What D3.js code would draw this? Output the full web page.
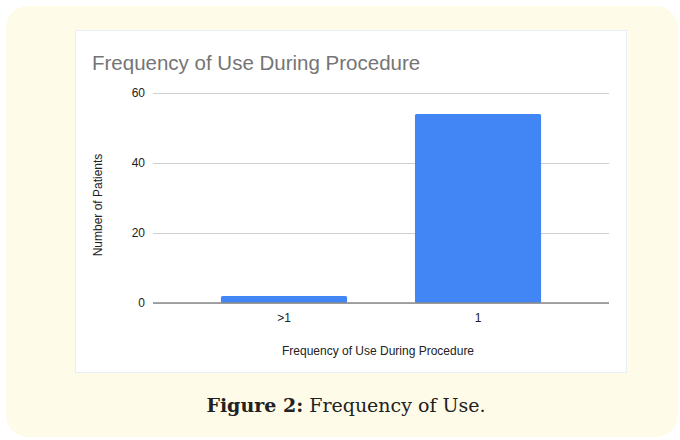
<!DOCTYPE html>
<html>
<head>
<meta charset="utf-8">
<script src="https://cdn.jsdelivr.net/npm/d3@7"></script>
<style>
  body { margin: 0; background: #ffffff; }
</style>
</head>
<body>
<div id="chart"></div>
<script>
var categories = [">1", "1"];
var patients = [2, 54];
var yTicks = [0, 20, 40, 60];

var svgWidth = 680;
var svgHeight = 440;

var svg = d3
  .select("#chart")
  .append("svg")
  .attr("width", svgWidth)
  .attr("height", svgHeight);

// cream card and white chart panel
svg.append("rect")
  .attr("x", 6).attr("y", 6)
  .attr("width", 672).attr("height", 431)
  .attr("rx", 22)
  .attr("fill", "#fffbe9");

svg.append("rect")
  .attr("x", 75.5).attr("y", 30.5)
  .attr("width", 551).attr("height", 342)
  .attr("fill", "#ffffff")
  .attr("stroke", "#e6eef8");

var plot = { left: 153, right: 609, top: 93, bottom: 303 };
var sans = "Arial, 'Liberation Sans', sans-serif";

var xScale = d3.scaleBand()
  .domain(categories)
  .range([plot.left, plot.right])
  .paddingInner(0.35)
  .paddingOuter(0.35);

var yScale = d3.scaleLinear()
  .domain([0, 60])
  .range([plot.bottom, plot.top]);

// gridlines + y labels
var leftAxis = d3.axisLeft(yScale)
  .tickValues(yTicks)
  .tickSize(-(plot.right - plot.left))
  .tickPadding(8);

var yAxisG = svg.append("g")
  .attr("transform", `translate(${plot.left},0)`)
  .call(leftAxis);
yAxisG.select(".domain").remove();
yAxisG.selectAll("line").attr("stroke", "#d0d0d0");
yAxisG.selectAll("text")
  .style("font-family", sans)
  .style("font-size", "12px")
  .attr("fill", "#222");

// bars
svg.append("g")
  .selectAll("rect")
  .data(categories)
  .enter()
  .append("rect")
  .attr("x", (d) => xScale(d))
  .attr("y", (d, i) => yScale(patients[i]))
  .attr("width", xScale.bandwidth())
  .attr("height", (d, i) => yScale(0) - yScale(patients[i]))
  .attr("rx", 1.5)
  .attr("fill", "#4285f4");

// baseline
svg.append("line")
  .attr("x1", plot.left).attr("x2", plot.right)
  .attr("y1", yScale(0)).attr("y2", yScale(0))
  .attr("stroke", "#8a8a8a")
  .attr("stroke-width", 1.5);

// x labels
var bottomAxis = d3.axisBottom(xScale).tickSize(0).tickPadding(10);
var xAxisG = svg.append("g")
  .attr("transform", `translate(0,${plot.bottom})`)
  .call(bottomAxis);
xAxisG.select(".domain").remove();
xAxisG.selectAll("text")
  .style("font-family", sans)
  .style("font-size", "12px")
  .attr("fill", "#222");

// titles
svg.append("text")
  .text("Frequency of Use During Procedure")
  .attr("x", 92).attr("y", 70)
  .style("font-family", sans)
  .style("font-size", "20.5px")
  .attr("fill", "#757575");

svg.append("text")
  .text("Frequency of Use During Procedure")
  .attr("x", 378).attr("y", 355)
  .style("text-anchor", "middle")
  .style("font-family", sans)
  .style("font-size", "12px")
  .attr("fill", "#222");

svg.append("text")
  .text("Number of Patients")
  .style("text-anchor", "middle")
  .style("font-family", sans)
  .style("font-size", "12px")
  .attr("fill", "#222")
  .attr("transform", "translate(102,205) rotate(-90)");

// caption
var cap = svg.append("text")
  .attr("x", 346).attr("y", 412)
  .style("text-anchor", "middle")
  .style("font-family", "'DejaVu Serif', serif")
  .style("font-size", "19px")
  .attr("fill", "#222");
cap.append("tspan").text("Figure 2:").style("font-weight", "bold");
cap.append("tspan").text(" Frequency of Use.");
</script>
</body>
</html>
